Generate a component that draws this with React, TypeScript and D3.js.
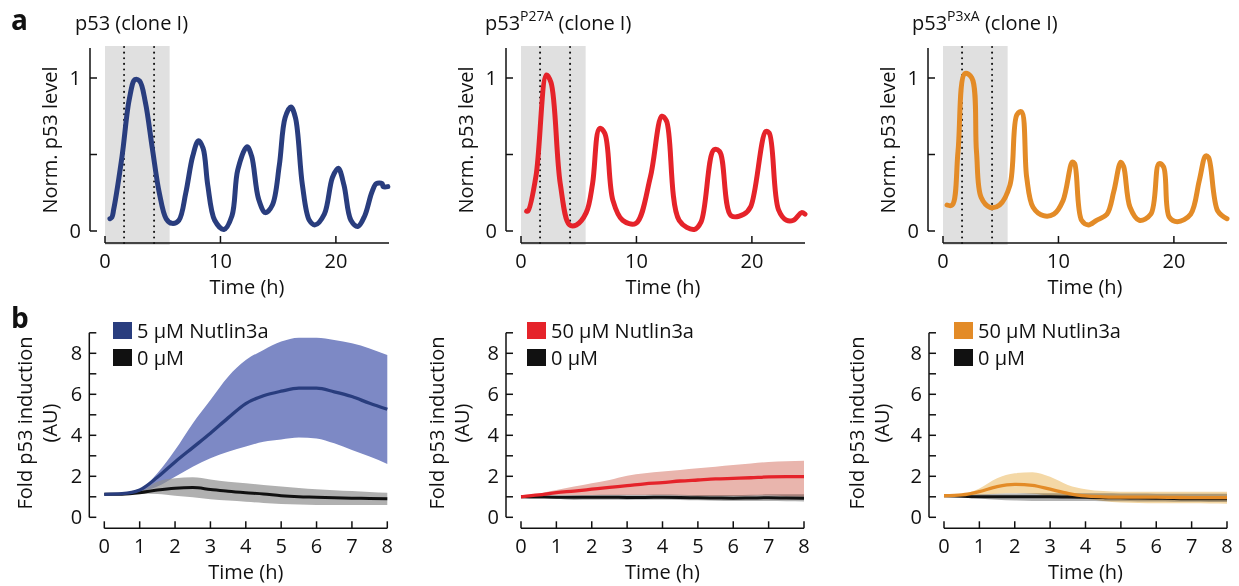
import React from 'react';
import * as d3 from 'd3';

const FONT = '"Open Sans", "Noto Sans", sans-serif';

// ---------- Panel a data (time in h, normalized p53 level) ----------
const a1Time = [0.43, 0.6, 0.75, 1.48, 2.1, 2.6, 3.0, 3.5, 4.1, 4.7, 5.3, 5.8, 6.4, 7.0, 7.6, 8.1, 8.5, 8.9, 9.5, 10.3, 11.0, 11.5, 12.3, 12.7, 13.3, 13.9, 14.5, 15.1, 15.6, 16.1, 16.5, 17.1, 17.7, 18.2, 19.0, 19.7, 20.2, 20.7, 21.3, 21.9, 22.5, 23.1, 23.5, 24.0, 24.1, 24.5];
const a1Level = [0.08, 0.09, 0.14, 0.49, 0.86, 0.99, 0.98, 0.84, 0.54, 0.25, 0.08, 0.05, 0.07, 0.25, 0.49, 0.59, 0.54, 0.3, 0.07, 0.01, 0.1, 0.4, 0.55, 0.49, 0.21, 0.12, 0.17, 0.43, 0.74, 0.81, 0.74, 0.3, 0.07, 0.04, 0.11, 0.35, 0.41, 0.3, 0.07, 0.03, 0.1, 0.25, 0.31, 0.31, 0.29, 0.29];

const a2Time = [0.49, 0.6, 1.3, 2.2, 2.6, 3.4, 4.2, 4.8, 5.65, 6.2, 6.8, 7.25, 7.96, 8.8, 9.95, 11.2, 12.2, 12.6, 13.7, 15.0, 15.6, 16.7, 17.2, 18.2, 19.3, 19.9, 21.2, 21.5, 22.3, 23.0, 23.6, 24.3, 24.6];
const a2Level = [0.13, 0.13, 0.36, 1.02, 0.97, 0.31, 0.04, 0.04, 0.12, 0.31, 0.67, 0.64, 0.2, 0.07, 0.05, 0.35, 0.75, 0.72, 0.07, 0.01, 0.06, 0.53, 0.52, 0.1, 0.11, 0.16, 0.65, 0.64, 0.14, 0.07, 0.07, 0.12, 0.11];

const a3Time = [0.35, 0.8, 1.3, 1.9, 2.5, 2.9, 3.3, 4.06, 4.9, 5.8, 6.4, 6.8, 7.25, 7.8, 8.7, 9.6, 10.4, 11.2, 11.4, 12.0, 12.6, 13.3, 14.2, 14.8, 15.4, 15.65, 16.2, 17.0, 18.0, 18.7, 19.1, 19.6, 20.3, 21.45, 22.2, 22.75, 23.0, 23.8, 24.6];
const a3Level = [0.17, 0.17, 0.52, 1.03, 1.0, 0.52, 0.22, 0.155, 0.17, 0.3, 0.76, 0.78, 0.35, 0.155, 0.1, 0.11, 0.2, 0.45, 0.44, 0.07, 0.04, 0.07, 0.11, 0.26, 0.45, 0.42, 0.155, 0.07, 0.11, 0.44, 0.42, 0.09, 0.06, 0.11, 0.33, 0.49, 0.48, 0.13, 0.08];

const aTitles = ['', 'P27A', 'P3xA'];
const aXTicks = [0, 10, 20];
const aYTicks = [0, 0.5, 1];
const aYTickLabels = ['0', '', '1'];

// ---------- Panel b data (time in h, fold induction) ----------
const bTime = [0, 0.5, 1, 1.5, 2, 2.5, 3, 3.5, 4, 4.5, 5, 5.5, 6, 6.5, 7, 7.5, 8];

const b1Mean = [1.12, 1.15, 1.33, 1.95, 2.7, 3.4, 4.1, 4.85, 5.55, 5.93, 6.15, 6.3, 6.3, 6.12, 5.89, 5.56, 5.27];
const b1Upper = [1.12, 1.16, 1.35, 2.15, 3.28, 4.58, 5.72, 6.86, 7.67, 8.16, 8.57, 8.76, 8.76, 8.65, 8.49, 8.24, 7.92];
const b1Lower = [1.12, 1.14, 1.25, 1.5, 1.98, 2.47, 2.88, 3.2, 3.45, 3.69, 3.8, 3.89, 3.85, 3.61, 3.28, 2.96, 2.6];
const b1CtrlMean = [1.12, 1.13, 1.2, 1.33, 1.42, 1.45, 1.36, 1.27, 1.2, 1.14, 1.05, 1.0, 0.98, 0.95, 0.93, 0.92, 0.9];
const b1CtrlUpper = [1.12, 1.14, 1.25, 1.74, 1.9, 1.95, 1.85, 1.74, 1.66, 1.58, 1.5, 1.43, 1.37, 1.32, 1.28, 1.24, 1.2];
const b1CtrlLower = [1.12, 1.12, 1.15, 1.14, 1.05, 0.98, 0.88, 0.82, 0.76, 0.7, 0.65, 0.62, 0.6, 0.6, 0.6, 0.6, 0.6];

const b2Mean = [1.0, 1.09, 1.2, 1.28, 1.37, 1.46, 1.54, 1.63, 1.69, 1.77, 1.82, 1.87, 1.9, 1.93, 1.97, 1.98, 1.98];
const b2Upper = [1.0, 1.15, 1.33, 1.5, 1.66, 1.82, 2.03, 2.15, 2.23, 2.31, 2.39, 2.47, 2.55, 2.63, 2.7, 2.73, 2.76];
const b2Lower = [1.0, 1.04, 1.09, 1.09, 1.09, 1.09, 1.09, 1.09, 1.09, 1.06, 1.04, 1.04, 1.04, 1.05, 1.06, 1.03, 1.0];
const b2CtrlMean = [1.0, 0.99, 0.98, 0.98, 0.98, 0.98, 0.97, 0.97, 0.98, 0.97, 0.95, 0.94, 0.93, 0.94, 0.95, 0.94, 0.93];
const b2CtrlUpper = [1.0, 1.03, 1.06, 1.08, 1.09, 1.1, 1.1, 1.1, 1.11, 1.1, 1.09, 1.09, 1.09, 1.1, 1.12, 1.12, 1.12];
const b2CtrlLower = [1.0, 0.95, 0.9, 0.85, 0.86, 0.86, 0.85, 0.86, 0.86, 0.85, 0.83, 0.81, 0.8, 0.8, 0.79, 0.78, 0.77];

const b3Mean = [1.05, 1.09, 1.25, 1.5, 1.61, 1.56, 1.37, 1.17, 1.04, 1.0, 0.98, 0.98, 0.98, 0.97, 0.96, 0.96, 0.96];
const b3Upper = [1.05, 1.12, 1.41, 1.9, 2.15, 2.2, 1.98, 1.58, 1.37, 1.28, 1.25, 1.25, 1.25, 1.25, 1.25, 1.25, 1.25];
const b3Lower = [1.05, 1.06, 1.1, 1.15, 1.17, 1.15, 1.05, 0.97, 0.9, 0.8, 0.72, 0.7, 0.68, 0.68, 0.68, 0.67, 0.66];
const b3CtrlMean = [1.05, 1.03, 1.0, 1.0, 1.0, 1.0, 1.0, 0.99, 0.98, 0.96, 0.95, 0.94, 0.93, 0.92, 0.9, 0.9, 0.9];
const b3CtrlUpper = [1.05, 1.08, 1.12, 1.15, 1.16, 1.17, 1.17, 1.17, 1.17, 1.17, 1.16, 1.16, 1.15, 1.15, 1.15, 1.15, 1.15];
const b3CtrlLower = [1.05, 0.99, 0.92, 0.86, 0.82, 0.8, 0.79, 0.79, 0.79, 0.78, 0.78, 0.77, 0.77, 0.76, 0.76, 0.75, 0.75];

const bLegend = ['5 \u03bcM Nutlin3a', '50 \u03bcM Nutlin3a', '50 \u03bcM Nutlin3a'];
const bCtrlLegend = '0 \u03bcM';
const bXTicks = [0, 1, 2, 3, 4, 5, 6, 7, 8];
const bYTicks = [0, 1, 2, 3, 4, 5, 6, 7, 8, 9];
const bYTickLabels = ['0', '', '2', '', '4', '', '6', '', '8', ''];

const NAVY = '#293d7e';
const RED = '#e5232a';
const ORANGE = '#e38b27';
const lineColors = [NAVY, RED, ORANGE];
const bandColors = ['#7d89c5', '#e9b5ad', '#f4d8a6'];

const aAxisX = [90, 506, 928];
const bAxisX = [89.3, 506, 929];
const FS = 20;

function TopPanel({ i }: { i: number }) {
  const ax = aAxisX[i];
  const times = [a1Time, a2Time, a3Time][i];
  const levels = [a1Level, a2Level, a3Level][i];
  const x = d3.scaleLinear().domain([0, 24.6]).range([ax + 15, ax + 299]);
  const y = d3.scaleLinear().domain([0, 1]).range([231, 78]);
  const pts = times.map((t, k) => [t, levels[k]] as [number, number]);
  const line = d3.line<[number, number]>().x(d => x(d[0])).y(d => y(d[1])).curve(d3.curveCatmullRom.alpha(0.5));
  const xAxisY = 243;
  const titleX = [75, 485, 912][i];
  const sup = aTitles[i];
  return (
    <g>
      <rect x={x(0)} y={46} width={x(5.6) - x(0)} height={199} fill="#e0e0e0" />
      {[1.65, 4.25].map(t => (
        <line key={t} x1={x(t)} x2={x(t)} y1={47} y2={245} stroke="#111" strokeWidth={2}
          strokeDasharray="0.1 5.5" strokeLinecap="round" />
      ))}
      <line x1={ax} x2={ax} y1={48} y2={y(0)} stroke="#111" strokeWidth={1.5} />
      {aYTicks.map((v, k) => (
        <g key={v}>
          <line x1={ax} x2={ax + 7} y1={y(v)} y2={y(v)} stroke="#111" strokeWidth={1.5} />
          {aYTickLabels[k] && (
            <text x={ax - 9} y={y(v) + 7} textAnchor="end" fontSize={FS} fill="#111">{aYTickLabels[k]}</text>
          )}
        </g>
      ))}
      <line x1={x(0)} x2={x(24.6)} y1={xAxisY} y2={xAxisY} stroke="#111" strokeWidth={1.5} />
      {aXTicks.map(v => (
        <g key={v}>
          <line x1={x(v)} x2={x(v)} y1={xAxisY} y2={xAxisY - 7} stroke="#111" strokeWidth={1.5} />
          <text x={x(v)} y={268} textAnchor="middle" fontSize={FS} fill="#111">{v}</text>
        </g>
      ))}
      <text x={(x(0) + x(24.6)) / 2} y={294} textAnchor="middle" fontSize={FS} fill="#111">Time (h)</text>
      <text transform={`translate(${ax - 33},${140}) rotate(-90)`} textAnchor="middle" fontSize={FS} fill="#111">Norm. p53 level</text>
      <path d={line(pts) || ''} fill="none" stroke={lineColors[i]} strokeWidth={5} strokeLinejoin="round" strokeLinecap="round" />
      <text x={titleX} y={30} fontSize={FS} fill="#111">
        p53{sup && <tspan dy={-9} fontSize={14}>{sup}</tspan>}
        <tspan dy={sup ? 9 : 0}>{' (clone I)'}</tspan>
      </text>
    </g>
  );
}

function BottomPanel({ i }: { i: number }) {
  const ax = bAxisX[i];
  const x = d3.scaleLinear().domain([0, 8]).range([ax + 15, ax + 298]);
  const y = d3.scaleLinear().domain([0, 8]).range([517.3, 353.3]);
  const mean = [b1Mean, b2Mean, b3Mean][i];
  const upper = [b1Upper, b2Upper, b3Upper][i];
  const lower = [b1Lower, b2Lower, b3Lower][i];
  const cMean = [b1CtrlMean, b2CtrlMean, b3CtrlMean][i];
  const cUpper = [b1CtrlUpper, b2CtrlUpper, b3CtrlUpper][i];
  const cLower = [b1CtrlLower, b2CtrlLower, b3CtrlLower][i];
  const area = d3.area<number>().x(d => x(d)).curve(d3.curveMonotoneX);
  const line = d3.line<number>().x(d => x(d)).curve(d3.curveMonotoneX);
  const band = (lo: number[], hi: number[]) =>
    area.y0((_, k) => y(lo[k])).y1((_, k) => y(hi[k]))(bTime) || '';
  const meanPath = (m: number[]) => line.y((_, k) => y(m[k]))(bTime) || '';
  const xAxisY = 528.3;
  const legX = [113, 527, 954][i];
  const yLabX = [[25, 50], [436.7, 462], [856.7, 882]][i];
  return (
    <g>
      {i === 0 ? (
        <>
          <path d={band(lower, upper)} fill={bandColors[i]} />
          <path d={band(cLower, cUpper)} fill="#8f8f8f" opacity={0.7} />
        </>
      ) : (
        <>
          <path d={band(cLower, cUpper)} fill="#b4b4b4" />
          <path d={band(lower, upper)} fill={bandColors[i]} style={{ mixBlendMode: 'multiply' }} />
        </>
      )}
      <path d={meanPath(cMean)} fill="none" stroke="#111" strokeWidth={3} />
      <path d={meanPath(mean)} fill="none" stroke={lineColors[i]} strokeWidth={3.3} />
      <line x1={ax} x2={ax} y1={y(9)} y2={y(0)} stroke="#111" strokeWidth={1.5} />
      {bYTicks.map((v, k) => (
        <g key={v}>
          <line x1={ax} x2={ax + 7} y1={y(v)} y2={y(v)} stroke="#111" strokeWidth={1.5} />
          {bYTickLabels[k] && (
            <text x={ax - 7} y={y(v) + 7} textAnchor="end" fontSize={FS} fill="#111">{bYTickLabels[k]}</text>
          )}
        </g>
      ))}
      <line x1={x(0)} x2={x(8)} y1={xAxisY} y2={xAxisY} stroke="#111" strokeWidth={1.5} />
      {bXTicks.map(v => (
        <g key={v}>
          <line x1={x(v)} x2={x(v)} y1={xAxisY} y2={xAxisY - 7} stroke="#111" strokeWidth={1.5} />
          <text x={x(v)} y={553} textAnchor="middle" fontSize={FS} fill="#111">{v}</text>
        </g>
      ))}
      <text x={(x(0) + x(8)) / 2} y={579} textAnchor="middle" fontSize={FS} fill="#111">Time (h)</text>
      <text transform={`translate(${yLabX[0] + 7},${423}) rotate(-90)`} textAnchor="middle" fontSize={FS} fill="#111">Fold p53 induction</text>
      <text transform={`translate(${yLabX[1] + 7},${423}) rotate(-90)`} textAnchor="middle" fontSize={FS} fill="#111">(AU)</text>
      <rect x={legX} y={322} width={19} height={17} fill={lineColors[i]} />
      <text x={legX + 24} y={338} fontSize={FS} fill="#111">{bLegend[i]}</text>
      <rect x={legX} y={349} width={19} height={17} fill="#111" />
      <text x={legX + 24} y={365} fontSize={FS} fill="#111">{bCtrlLegend}</text>
    </g>
  );
}

export default function App() {
  return (
    <svg width={1239} height={586} viewBox="0 0 1239 586"
      style={{ position: 'absolute', left: 0, top: 0, background: '#fff' }} fontFamily={FONT}>
      <rect width={1239} height={586} fill="#fff" />
      <text x={11} y={30} fontSize={28} fontWeight="bold" fill="#111">a</text>
      <text x={11} y={328} fontSize={28} fontWeight="bold" fill="#111">b</text>
      {[0, 1, 2].map(i => <TopPanel key={i} i={i} />)}
      {[0, 1, 2].map(i => <BottomPanel key={i} i={i} />)}
    </svg>
  );
}
